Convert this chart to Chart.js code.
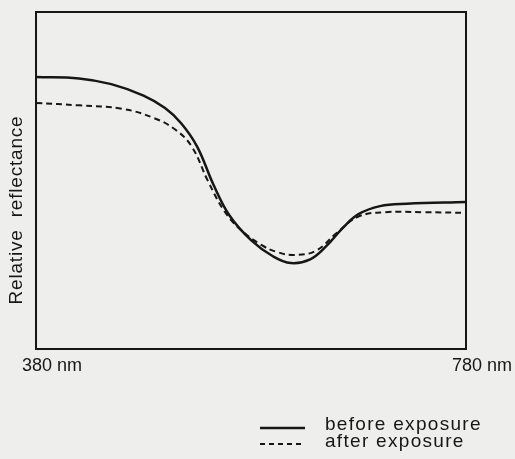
<!DOCTYPE html>
<html>
<head>
<meta charset="utf-8">
<script src="https://cdn.jsdelivr.net/npm/chart.js@4.4.1/dist/chart.umd.min.js"></script>
<style>
  html, body { margin: 0; padding: 0; background: #eeeeec; }
  #wrap { width: 515px; height: 459px; }
</style>
</head>
<body>
<div id="wrap"><canvas id="reflChart" width="515" height="459"></canvas></div>
<script>
// wavelengths (nm) and relative reflectance
var beforeNm = [380, 420, 450, 480, 500, 515, 530, 545, 560, 580, 600, 617, 635, 650, 665, 680, 700, 725, 780];
var beforeVal = [80.7, 80.3, 78.6, 75.2, 71.5, 67.0, 60.0, 48.8, 39.6, 32.3, 27.6, 25.5, 26.6, 30.5, 35.8, 40.0, 42.4, 43.1, 43.6];
var afterNm = [380, 420, 460, 490, 510, 525, 540, 555, 570, 590, 605, 620, 640, 660, 680, 705, 740, 780];
var afterVal = [73.0, 72.3, 71.3, 68.5, 65.0, 60.0, 49.8, 41.0, 35.5, 30.8, 28.7, 27.9, 29.1, 34.5, 39.3, 40.6, 40.6, 40.4];
var xTicks = [380, 780];
var seriesNames = ['before exposure', 'after exposure'];

var ink = '#161616';
var fontFamily = '"Liberation Sans", Arial, sans-serif';

function toPoints(xs, ys) {
    return xs.map(function (x, i) { return { x: x, y: ys[i] }; });
}

// frame around the plot, rotated y title and the legend under the chart
var extras = {
    id: 'extras',
    afterDraw: function (chart) {
        var ctx = chart.ctx;
        var a = chart.chartArea;
        ctx.save();
        ctx.strokeStyle = ink;
        ctx.lineWidth = 2;
        ctx.strokeRect(a.left, a.top, a.right - a.left, a.bottom - a.top);

        ctx.fillStyle = ink;
        ctx.font = '19px ' + fontFamily;
        ctx.letterSpacing = '0.8px';
        ctx.textAlign = 'center';
        ctx.textBaseline = 'middle';
        ctx.translate(17, 210);
        ctx.rotate(-Math.PI / 2);
        ctx.fillText('Relative  reflectance', 0, 0);
        ctx.restore();

        ctx.save();
        ctx.strokeStyle = ink;
        ctx.fillStyle = ink;
        ctx.font = '19px ' + fontFamily;
        ctx.letterSpacing = '1.3px';
        ctx.textBaseline = 'middle';
        ctx.lineWidth = 2.5;
        ctx.beginPath();
        ctx.moveTo(260, 428);
        ctx.lineTo(305, 428);
        ctx.stroke();
        ctx.fillText(seriesNames[0], 325, 425);
        ctx.lineWidth = 2;
        ctx.setLineDash([5, 4]);
        ctx.beginPath();
        ctx.moveTo(260, 444);
        ctx.lineTo(305, 444);
        ctx.stroke();
        ctx.setLineDash([]);
        ctx.fillText(seriesNames[1], 325, 442);
        ctx.restore();
    }
};

var chart = new Chart(document.getElementById('reflChart'), {
    type: 'line',
    data: {
        datasets: [{
            label: seriesNames[0],
            data: toPoints(beforeNm, beforeVal),
            borderColor: ink,
            borderWidth: 2.5,
            pointRadius: 0,
            tension: 0.4
        }, {
            label: seriesNames[1],
            data: toPoints(afterNm, afterVal),
            borderColor: ink,
            borderWidth: 2,
            borderDash: [6, 4],
            pointRadius: 0,
            tension: 0.4
        }]
    },
    options: {
        responsive: false,
        animation: false,
        layout: { padding: { left: 0, top: 12, right: 49, bottom: 0 } },
        plugins: {
            legend: { display: false },
            tooltip: { enabled: false }
        },
        scales: {
            x: {
                type: 'linear',
                min: 380,
                max: 780,
                afterBuildTicks: function (scale) {
                    scale.ticks = xTicks.map(function (v) { return { value: v }; });
                },
                afterFit: function (scale) { scale.height = 110; },
                grid: { display: false, drawTicks: false },
                border: { display: false },
                ticks: {
                    autoSkip: false,
                    maxRotation: 0,
                    padding: 6,
                    labelOffset: 16,
                    color: ink,
                    font: { family: fontFamily, size: 18 },
                    callback: function (value) { return value + ' nm'; }
                }
            },
            y: {
                min: 0,
                max: 100,
                afterFit: function (scale) { scale.width = 33; },
                grid: { display: false, drawTicks: false },
                border: { display: false },
                ticks: { display: false }
            }
        }
    },
    plugins: [extras]
});
</script>
</body>
</html>
